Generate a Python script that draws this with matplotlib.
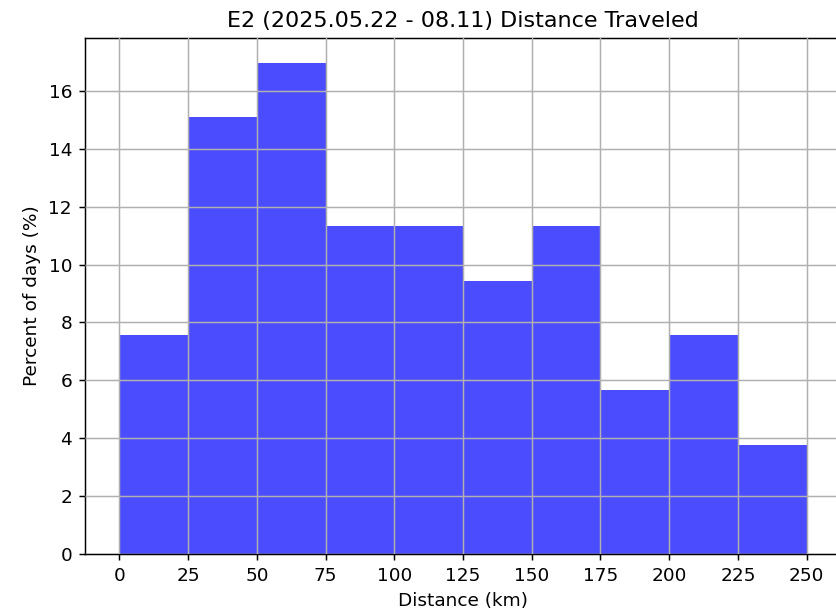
import matplotlib
matplotlib.use("Agg")
import matplotlib.pyplot as plt
import numpy as np

bin_edges = [0, 25, 50, 75, 100, 125, 150, 175, 200, 225, 250]
percent_of_days = [7.55, 15.09, 16.98, 11.32, 11.32, 9.43, 11.32, 5.66, 7.55, 3.77]
title = "E2 (2025.05.22 - 08.11) Distance Traveled"
xlabel = "Distance (km)"
ylabel = "Percent of days (%)"

DPI = 400 / 3
W, H = 836, 614
fig = plt.figure(figsize=(W / DPI, H / DPI), dpi=DPI)
left, right, top, bottom = 85, 841, 38, 554
ax = fig.add_axes([left / W, (H - bottom) / H, (right - left) / W, (bottom - top) / H])
ax.hist(bin_edges[:-1], bins=bin_edges, weights=percent_of_days, color="blue", alpha=0.7)
ax.set_xticks(bin_edges)
ax.set_xlim(-12.5, 262.5)
ax.set_ylim(0, max(percent_of_days) * 1.05)
ax.grid(True)
ax.set_axisbelow(False)
ax.set_title(title)
ax.set_xlabel(xlabel)
ax.set_ylabel(ylabel)
fig.savefig("out.png", dpi=DPI)
